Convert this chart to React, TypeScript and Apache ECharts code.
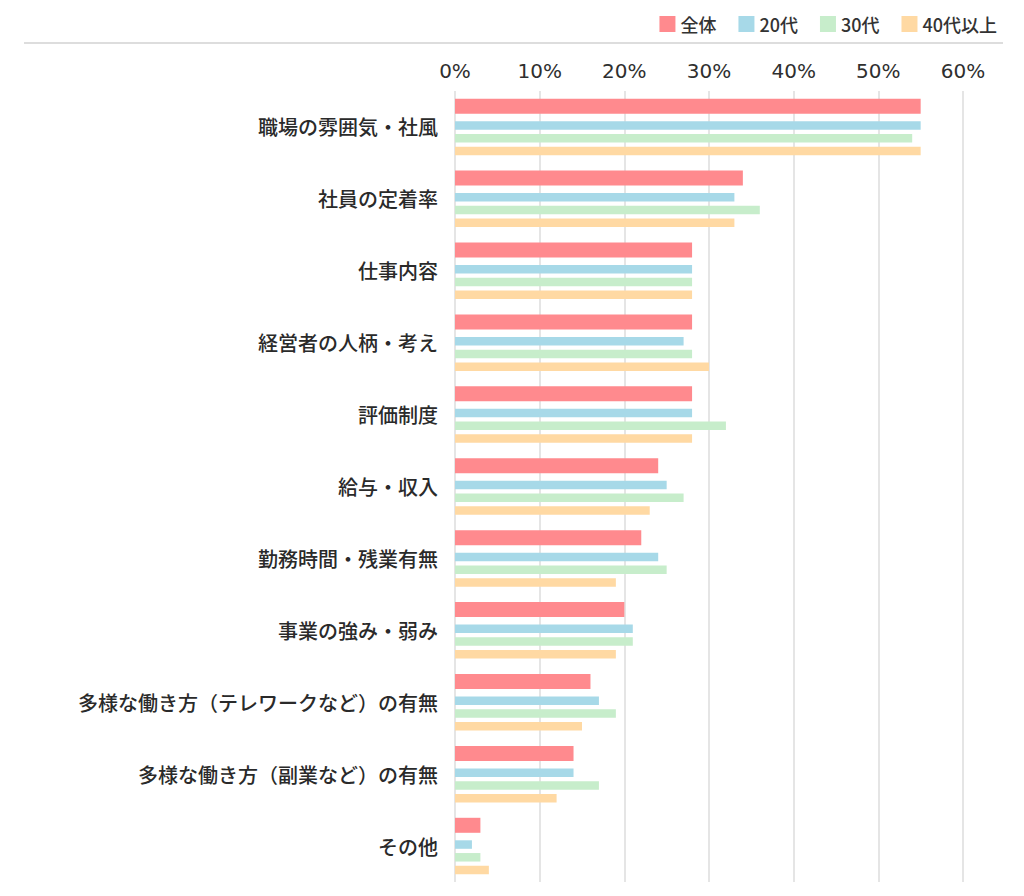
import React, { useEffect, useRef } from "react";
import * as echarts from "echarts";

const categories = [
  "職場の雰囲気・社風",
  "社員の定着率",
  "仕事内容",
  "経営者の人柄・考え",
  "評価制度",
  "給与・収入",
  "勤務時間・残業有無",
  "事業の強み・弱み",
  "多様な働き方（テレワークなど）の有無",
  "多様な働き方（副業など）の有無",
  "その他",
];

const seriesNames = ["全体", "20代", "30代", "40代以上"];
const allValues = [55, 34, 28, 28, 28, 24, 22, 20, 16, 14, 3];
const age20Values = [55, 33, 28, 27, 28, 25, 24, 21, 17, 14, 2];
const age30Values = [54, 36, 28, 28, 32, 27, 25, 21, 19, 17, 3];
const age40Values = [55, 33, 28, 30, 28, 23, 19, 19, 15, 12, 4];
const xTicks = [0, 10, 20, 30, 40, 50, 60];

const colors = ["#ff8a8e", "#a7d9e8", "#c7edcb", "#ffd9a3"];

export default function App() {
  const ref = useRef<HTMLDivElement>(null);
  useEffect(() => {
    if (!ref.current) return;
    const chart = echarts.init(ref.current, undefined, { renderer: "svg" });
    const valueSets = [allValues, age20Values, age30Values, age40Values];
    chart.setOption({
      animation: false,
      backgroundColor: "#ffffff",
      textStyle: { fontFamily: "'Noto Sans CJK JP', 'Noto Sans', sans-serif" },
      legend: {
        data: seriesNames,
        right: 22,
        top: 10,
        itemWidth: 16,
        itemHeight: 16,
        itemGap: 22,
        icon: "rect",
        textStyle: {
          fontSize: 18,
          fontWeight: 500,
          color: "#333333",
          fontFamily: "'Noto Sans CJK JP', sans-serif",
        },
      },
      graphic: [
        {
          type: "line",
          shape: { x1: 24, y1: 43, x2: 1003, y2: 43 },
          style: { stroke: "#dddddd", lineWidth: 2 },
          silent: true,
        },
      ],
      grid: { left: 455, right: 61, top: 91, height: 791 },
      xAxis: {
        type: "value",
        position: "top",
        min: xTicks[0],
        max: xTicks[xTicks.length - 1],
        interval: 10,
        axisLine: { show: false },
        axisTick: { show: false },
        axisLabel: {
          formatter: "{value}%",
          fontSize: 20,
          color: "#2f2f2f",
          margin: 10,
          fontFamily: "'DejaVu Sans', sans-serif",
        },
        splitLine: { show: true, lineStyle: { color: "#dcdcdc", width: 1.5 } },
      },
      yAxis: {
        type: "category",
        inverse: true,
        data: categories,
        axisLine: { show: false },
        axisTick: { show: false },
        axisLabel: {
          fontSize: 20,
          fontWeight: 500,
          color: "#2a2a2a",
          margin: 17,
          fontFamily: "'Noto Sans CJK JP', sans-serif",
        },
      },
      series: seriesNames.map((name, i) => ({
        name,
        type: "bar",
        data: valueSets[i],
        barWidth: i === 0 ? 15 : 8.5,
        barGap: "50%",
        itemStyle: { color: colors[i] },
      })),
    });
    return () => chart.dispose();
  }, []);
  return (
    <div
      ref={ref}
      style={{ position: "fixed", left: 0, top: 0, width: 1024, height: 896 }}
    />
  );
}
